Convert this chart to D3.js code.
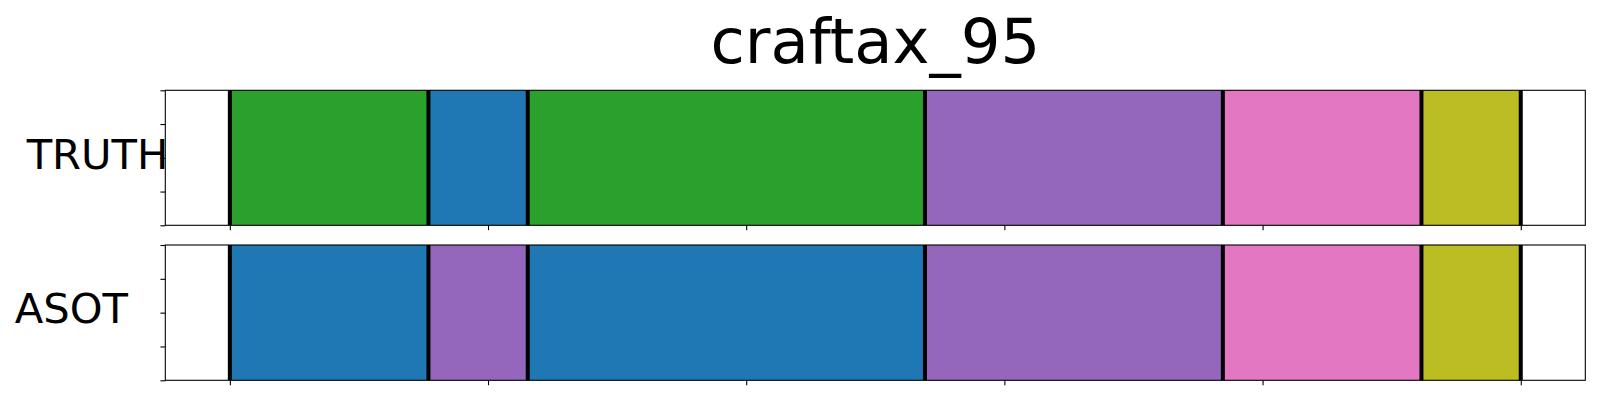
<!DOCTYPE html>
<html>
<head>
<meta charset="utf-8">
<script src="https://cdn.jsdelivr.net/npm/d3@7"></script>
<style>
  html, body { margin: 0; padding: 0; background: #fff; }
  svg { display: block; font-family: "DejaVu Sans", sans-serif; }
</style>
</head>
<body>
<svg id="chart" width="1600" height="400"></svg>
<script>
// ---- data ----
const title = "craftax_95";
const rowLabels = ["TRUTH", "ASOT"];
const boundaries = [0, 2, 3, 7, 10, 12, 13];          // segment edges (time units)
const truthClasses = [2, 0, 2, 4, 6, 8];               // tab10 class index per segment
const asotClasses  = [0, 4, 0, 4, 6, 8];
const xTickValues = [0, 2.6, 5.2, 7.8, 10.4, 13];
const yTickValues = [0, 0.25, 0.5, 0.75, 1];

const palette = d3.schemeCategory10;
const svg = d3.select("#chart");

const total = boundaries[boundaries.length - 1];
const x = d3.scaleLinear().domain([-0.05 * total, 1.05 * total]).range([165.3, 1585.3]);

const rows = [
  { label: rowLabels[0], classes: truthClasses, top: 90.3, bottom: 225.3, baseline: 169.3, labelX: 97.5 },
  { label: rowLabels[1], classes: asotClasses,  top: 245,  bottom: 380.3, baseline: 323.3, labelX: 71.3 }
];

rows.forEach(r => {
  const y = d3.scaleLinear().domain([0, 1]).range([r.bottom, r.top]);
  const g = svg.append("g");
  const segs = r.classes.map((c, i) => ({ x0: boundaries[i], x1: boundaries[i + 1], c }));

  g.selectAll("rect.seg").data(segs).join("rect")
    .attr("class", "seg")
    .attr("x", d => x(d.x0))
    .attr("width", d => x(d.x1) - x(d.x0))
    .attr("y", y(1))
    .attr("height", y(0) - y(1))
    .attr("fill", d => palette[d.c]);

  g.selectAll("line.bound").data(boundaries).join("line")
    .attr("class", "bound")
    .attr("x1", d => x(d)).attr("x2", d => x(d))
    .attr("y1", y(0)).attr("y2", y(1))
    .attr("stroke", "#000").attr("stroke-width", 4);

  // axes
  const ya = g.append("g").attr("transform", `translate(${x.range()[0]},0)`)
    .call(d3.axisLeft(y).tickValues(yTickValues).tickSize(4.9).tickFormat(""));
  const xa = g.append("g").attr("transform", `translate(0,${r.bottom})`)
    .call(d3.axisBottom(x).tickValues(xTickValues).tickSize(4.9).tickFormat(""));
  [ya, xa].forEach(a => {
    a.select(".domain").remove();
    a.selectAll(".tick line").attr("stroke", "#000").attr("stroke-width", 1.1);
  });

  // frame
  g.append("rect")
    .attr("x", x.range()[0]).attr("y", r.top)
    .attr("width", x.range()[1] - x.range()[0])
    .attr("height", r.bottom - r.top)
    .attr("fill", "none").attr("stroke", "#000").attr("stroke-width", 1.1);

  g.append("text")
    .attr("x", r.labelX).attr("y", r.baseline)
    .attr("text-anchor", "middle")
    .attr("font-size", "41.67px")
    .attr("fill", "#000")
    .text(r.label);
});

svg.append("text")
  .attr("x", (x.range()[0] + x.range()[1]) / 2)
  .attr("y", 62.5)
  .attr("text-anchor", "middle")
  .attr("font-size", "62.5px")
  .attr("fill", "#000")
  .text(title);
</script>
</body>
</html>
